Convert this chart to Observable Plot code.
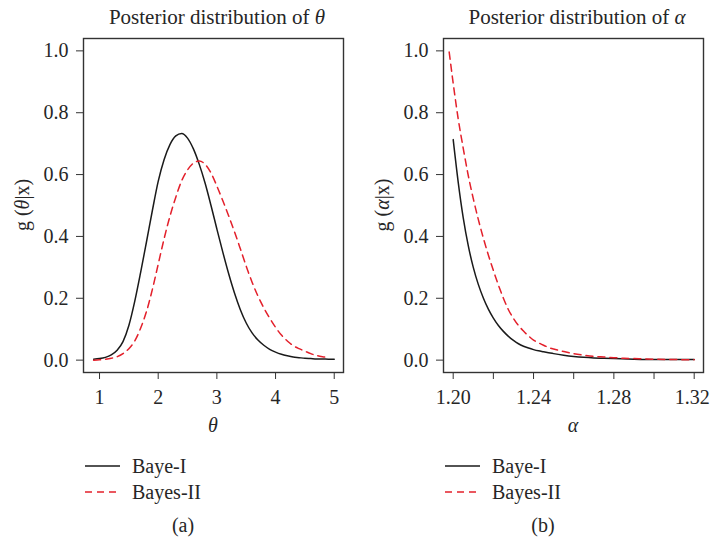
<!DOCTYPE html>
<html>
<head>
<meta charset="utf-8">
<script src="https://cdn.jsdelivr.net/npm/d3@7"></script>
<script src="https://cdn.jsdelivr.net/npm/@observablehq/plot@0.6"></script>
<style>
  html, body { margin: 0; padding: 0; background: #fff; overflow: hidden; }
  #wrap { position: relative; width: 710px; height: 546px; overflow: hidden; }
  #wrap svg { position: absolute; top: 0; overflow: visible; }
</style>
</head>
<body>
<div id="wrap"></div>
<script>
// ---- Data: posterior of theta ----
const thetaX1 = [0.9,1.0,1.1,1.2,1.3,1.4,1.5,1.6,1.7,1.8,1.9,2.0,2.1,2.2,2.3,2.4,2.5,2.6,2.7,2.8,2.9,3.0,3.1,3.2,3.3,3.4,3.5,3.6,3.7,3.8,3.9,4.0,4.1,4.2,4.3,4.4,4.5,4.6,4.7,4.8,4.9,5.0];
const thetaBayesI = [0.003,0.005,0.009,0.017,0.032,0.06,0.112,0.19,0.283,0.382,0.483,0.578,0.648,0.697,0.725,0.733,0.718,0.683,0.633,0.572,0.50,0.424,0.35,0.28,0.217,0.163,0.12,0.088,0.065,0.048,0.035,0.026,0.019,0.014,0.01,0.008,0.006,0.005,0.004,0.004,0.003,0.003];
const thetaX2 = [0.9,1.0,1.1,1.2,1.3,1.4,1.5,1.6,1.7,1.8,1.9,2.0,2.1,2.2,2.3,2.4,2.5,2.6,2.7,2.8,2.9,3.0,3.1,3.2,3.3,3.4,3.5,3.6,3.7,3.8,3.9,4.0,4.1,4.2,4.3,4.4,4.5,4.6,4.7,4.8,4.9];
const thetaBayesII = [0.000,0.001,0.003,0.006,0.011,0.021,0.037,0.062,0.103,0.157,0.228,0.31,0.392,0.465,0.527,0.58,0.615,0.637,0.644,0.633,0.605,0.563,0.516,0.467,0.415,0.36,0.304,0.252,0.207,0.169,0.136,0.106,0.081,0.062,0.047,0.037,0.029,0.021,0.015,0.011,0.008];

// ---- Data: posterior of alpha ----
const alphaX1 = [1.2,1.2025,1.205,1.2075,1.21,1.2125,1.215,1.2175,1.22,1.2225,1.225,1.2275,1.23,1.2325,1.235,1.2375,1.24,1.2425,1.245,1.2475,1.25,1.255,1.26,1.265,1.27,1.275,1.28,1.29,1.30,1.31,1.32];
const alphaBayesI = [0.713,0.575,0.46,0.37,0.30,0.245,0.201,0.165,0.136,0.112,0.093,0.077,0.064,0.053,0.045,0.039,0.034,0.030,0.027,0.024,0.021,0.016,0.012,0.009,0.007,0.006,0.005,0.003,0.002,0.002,0.002];
const alphaX2 = [1.198,1.2,1.2025,1.205,1.2075,1.21,1.2125,1.215,1.2175,1.22,1.2225,1.225,1.2275,1.23,1.2325,1.235,1.2375,1.24,1.2425,1.245,1.2475,1.25,1.255,1.26,1.265,1.27,1.275,1.28,1.285,1.29,1.295,1.30,1.31,1.32];
const alphaBayesII = [0.996,0.895,0.78,0.685,0.597,0.522,0.455,0.395,0.34,0.29,0.243,0.20,0.163,0.135,0.112,0.094,0.078,0.065,0.056,0.048,0.041,0.036,0.028,0.021,0.016,0.012,0.01,0.008,0.006,0.005,0.004,0.003,0.002,0.001];

// ---- Tick labels / text ----
const yTicks = [0, 0.2, 0.4, 0.6, 0.8, 1.0];
const thetaTicks = [1, 2, 3, 4, 5];
const alphaTicks = [1.20, 1.22, 1.24, 1.26, 1.28, 1.30, 1.32];
const alphaTickLabels = ["1.20", "", "1.24", "", "1.28", "", "1.32"];
const seriesNames = ["Baye-I", "Bayes-II"];
const panels = [
  {title: "Posterior distribution of ", sym: "θ", tag: "(a)"},
  {title: "Posterior distribution of ", sym: "α", tag: "(b)"}
];

const FONT = "Liberation Serif, Times New Roman, serif";
const FS = 20;
const BLACK = "#1a1a1a", RED = "#e3202b";
const W = 355, H = 546, ML = 83, MR = 12, MT = 38, MB = 174;

function toRows(xs, ys) { return xs.map((x, i) => ({x, y: ys[i]})); }

function panel(xDomain, xTicks, xFmt, dataI, dataII) {
  return Plot.plot({
    width: W, height: H,
    marginLeft: ML, marginRight: MR, marginTop: MT, marginBottom: MB,
    style: {fontFamily: FONT, fontSize: FS + "px", color: "#262626", background: "transparent"},
    x: {domain: xDomain},
    y: {domain: [-0.04, 1.04]},
    marks: [
      Plot.axisY({ticks: yTicks, tickFormat: d3.format(".1f"), tickSize: 7, tickPadding: 8, label: null, stroke: "#333"}),
      Plot.axisX({ticks: xTicks, tickFormat: xFmt, tickSize: 7, tickPadding: 10, label: null, stroke: "#333"}),
      Plot.line(dataI, {x: "x", y: "y", stroke: BLACK, strokeWidth: 1.5, curve: "monotone-x"}),
      Plot.line(dataII, {x: "x", y: "y", stroke: RED, strokeWidth: 1.5, strokeDasharray: "7,5", curve: "monotone-x"}),
      Plot.frame({stroke: "#333", strokeWidth: 1.4})
    ]
  });
}

const wrap = document.getElementById("wrap");
const p1 = panel([0.727, 5.158], thetaTicks, d => String(d), toRows(thetaX1, thetaBayesI), toRows(thetaX2, thetaBayesII));
const p2 = panel([1.19517, 1.32463], alphaTicks, (d, i) => alphaTickLabels[i], toRows(alphaX1, alphaBayesI), toRows(alphaX2, alphaBayesII));
p1.style.left = "0px";
p2.style.left = "360px";
wrap.appendChild(p1);
wrap.appendChild(p2);

// keep the last alpha tick label inside the page
d3.select(p2).selectAll("text").filter(function () { return this.textContent === "1.32"; }).attr("dx", -2);

[p1, p2].forEach((svg, k) => {
  const s = d3.select(svg);
  const cx = ML + (W - ML - MR) / 2;
  const cy = MT + (372 - MT) / 2;
  const g = s.append("g").attr("font-family", FONT).attr("fill", "#262626").attr("font-size", FS);
  // title
  const t = g.append("text").attr("x", cx + 4).attr("y", 24).attr("text-anchor", "middle").attr("font-size", 21);
  t.append("tspan").text(panels[k].title);
  t.append("tspan").attr("font-style", "italic").text(panels[k].sym);
  // x label
  g.append("text").attr("x", cx).attr("y", 432).attr("text-anchor", "middle")
    .attr("font-style", "italic").text(panels[k].sym);
  // y label
  const yl = g.append("text").attr("transform", `translate(29,${cy}) rotate(-90)`).attr("text-anchor", "middle");
  yl.append("tspan").text("g (");
  yl.append("tspan").attr("font-style", "italic").text(panels[k].sym);
  yl.append("tspan").text("|x)");
  // legend
  const lx = 85, lw = 35;
  const rows = [{y: 466, stroke: BLACK, dash: null}, {y: 492, stroke: RED, dash: "7,5"}];
  rows.forEach((r, i) => {
    const ln = g.append("line").attr("x1", lx).attr("x2", lx + lw).attr("y1", r.y).attr("y2", r.y)
      .attr("stroke", r.stroke).attr("stroke-width", 1.5);
    if (r.dash) ln.attr("stroke-dasharray", r.dash);
    g.append("text").attr("x", 132).attr("y", r.y).attr("dy", "0.33em").attr("text-anchor", "start").text(seriesNames[i]);
  });
  // tag
  g.append("text").attr("x", 183).attr("y", 532).attr("text-anchor", "middle").text(panels[k].tag);
});
</script>
</body>
</html>
